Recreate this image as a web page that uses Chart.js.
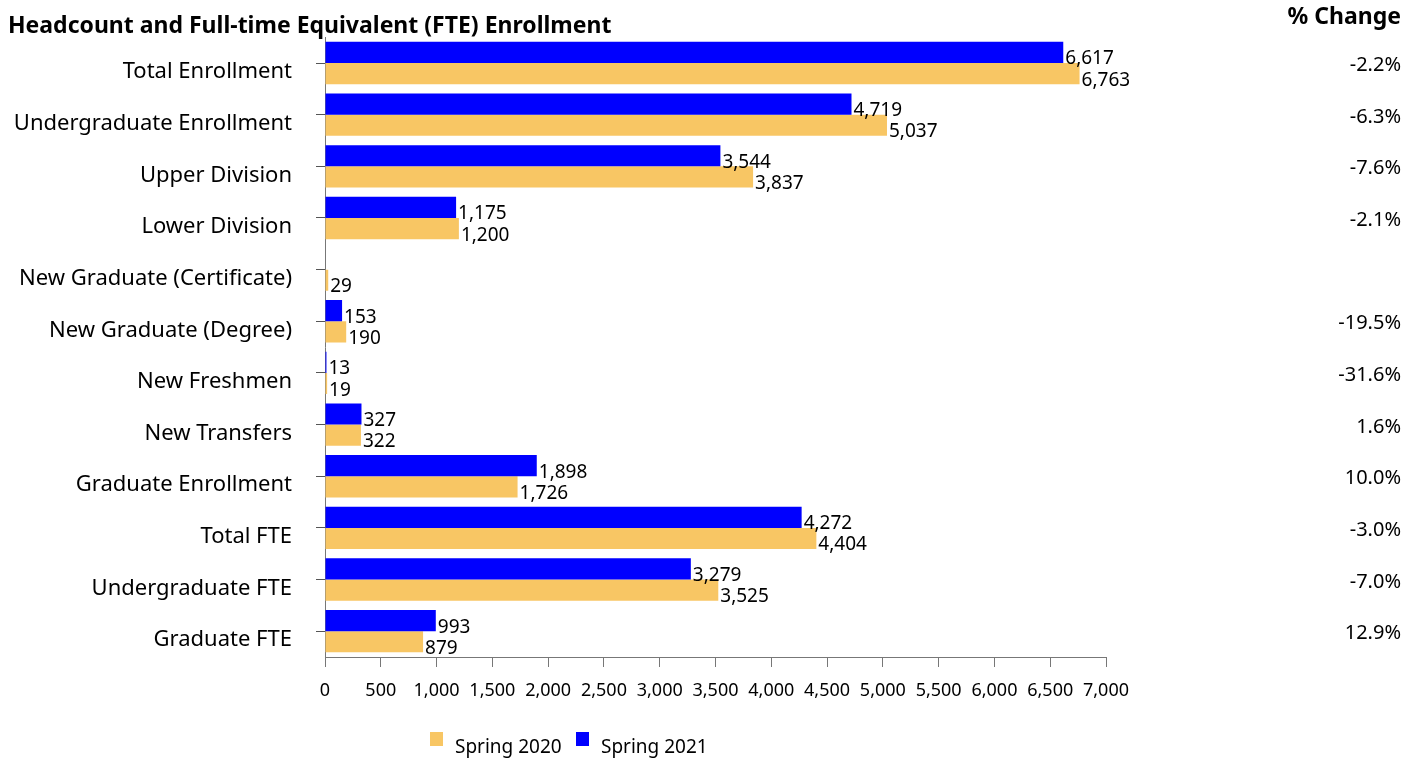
<!DOCTYPE html>
<html>
<head>
<meta charset="utf-8">
<script src="https://cdn.jsdelivr.net/npm/chart.js@4/dist/chart.umd.min.js"></script>
<style>
  html, body { margin: 0; padding: 0; background: #fff; }
  #wrap { width: 1417px; height: 761px; position: relative; }
</style>
</head>
<body>
<div id="wrap"><canvas id="enrollChart"></canvas></div>
<script>
const categories = [
    'Total Enrollment',
    'Undergraduate Enrollment',
    'Upper Division',
    'Lower Division',
    'New Graduate (Certificate)',
    'New Graduate (Degree)',
    'New Freshmen',
    'New Transfers',
    'Graduate Enrollment',
    'Total FTE',
    'Undergraduate FTE',
    'Graduate FTE',
];
const spring2021 = [6617, 4719, 3544, 1175, null, 153, 13, 327, 1898, 4272, 3279, 993];
const spring2020 = [6763, 5037, 3837, 1200, 29, 190, 19, 322, 1726, 4404, 3525, 879];
const pctChange = ['-2.2%', '-6.3%', '-7.6%', '-2.1%', '', '-19.5%', '-31.6%', '1.6%', '10.0%', '-3.0%', '-7.0%', '12.9%'];
const xMin = 0;
const xMax = 7000;
const xStep = 500;

const TITLE = 'Headcount and Full-time Equivalent (FTE) Enrollment';
const FONT = '"Noto Sans", sans-serif';
const BLUE = '#0000FF';
const GOLD = '#F8C664';

const fmt = (v) => v.toLocaleString('en-US');

// bar value labels, % change column, title and legend
const annotate = {
    id: 'annotate',
    afterDatasetsDraw(chart) {
        const { ctx } = chart;
        ctx.save();
        ctx.fillStyle = '#000';
        ctx.font = '19px ' + FONT;
        ctx.textAlign = 'left';
        ctx.textBaseline = 'alphabetic';
        chart.data.datasets.forEach((ds, di) => {
            chart.getDatasetMeta(di).data.forEach((bar, i) => {
                const v = ds.data[i];
                if (v === null || v === undefined) return;
                ctx.fillText(fmt(v), bar.x + 2, bar.y + 12);
            });
        });
        ctx.restore();
    },
    afterDraw(chart) {
        const { ctx } = chart;
        const yScale = chart.scales.y;
        ctx.save();
        ctx.fillStyle = '#000';

        ctx.font = 'bold 23px ' + FONT;
        ctx.textAlign = 'left';
        ctx.textBaseline = 'alphabetic';
        ctx.fillText(TITLE, 8, 33);

        ctx.textAlign = 'right';
        ctx.fillText('% Change', 1401, 24);

        ctx.font = '20px ' + FONT;
        pctChange.forEach((t, i) => {
            if (!t) return;
            ctx.fillText(t, 1401, yScale.getPixelForValue(i) + 8);
        });

        // legend: Spring 2020 first, then Spring 2021
        ctx.font = '19px ' + FONT;
        ctx.textAlign = 'left';
        const items = [['Spring 2020', GOLD, 430], ['Spring 2021', BLUE, 576]];
        items.forEach(([label, color, x]) => {
            ctx.fillStyle = color;
            ctx.fillRect(x, 732, 13, 14);
            ctx.fillStyle = '#000';
            ctx.fillText(label, x + 25, 753);
        });
        ctx.restore();
    },
};

new Chart(document.getElementById('enrollChart'), {
    type: 'bar',
    data: {
        labels: categories,
        datasets: [
            { label: 'Spring 2021', data: spring2021, backgroundColor: BLUE },
            { label: 'Spring 2020', data: spring2020, backgroundColor: GOLD },
        ],
    },
    options: {
        indexAxis: 'y',
        responsive: true,
        maintainAspectRatio: false,
        animation: false,
        layout: { padding: { top: 37, right: 311, bottom: 0, left: 0 } },
        datasets: { bar: { categoryPercentage: 0.82, barPercentage: 1.0 } },
        plugins: {
            legend: { display: false },
            tooltip: { enabled: false },
            title: { display: false },
        },
        scales: {
            x: {
                min: xMin,
                max: xMax,
                ticks: {
                    stepSize: xStep,
                    color: '#000',
                    font: { family: FONT, size: 18 },
                    padding: 13,
                    maxRotation: 0,
                    autoSkip: false,
                    callback: (v) => fmt(v),
                },
                grid: { drawOnChartArea: false, color: '#777', tickLength: 10 },
                border: { color: '#777' },
                afterFit: (s) => { s.height = 104; },
            },
            y: {
                ticks: {
                    color: '#000',
                    font: { family: FONT, size: 22 },
                    padding: 24,
                    labelOffset: 9,
                    autoSkip: false,
                },
                grid: { drawOnChartArea: false, offset: false, color: '#555', tickLength: 9 },
                border: { color: '#777' },
                afterFit: (s) => { s.width = 325; },
            },
        },
    },
    plugins: [annotate],
});
</script>
</body>
</html>
